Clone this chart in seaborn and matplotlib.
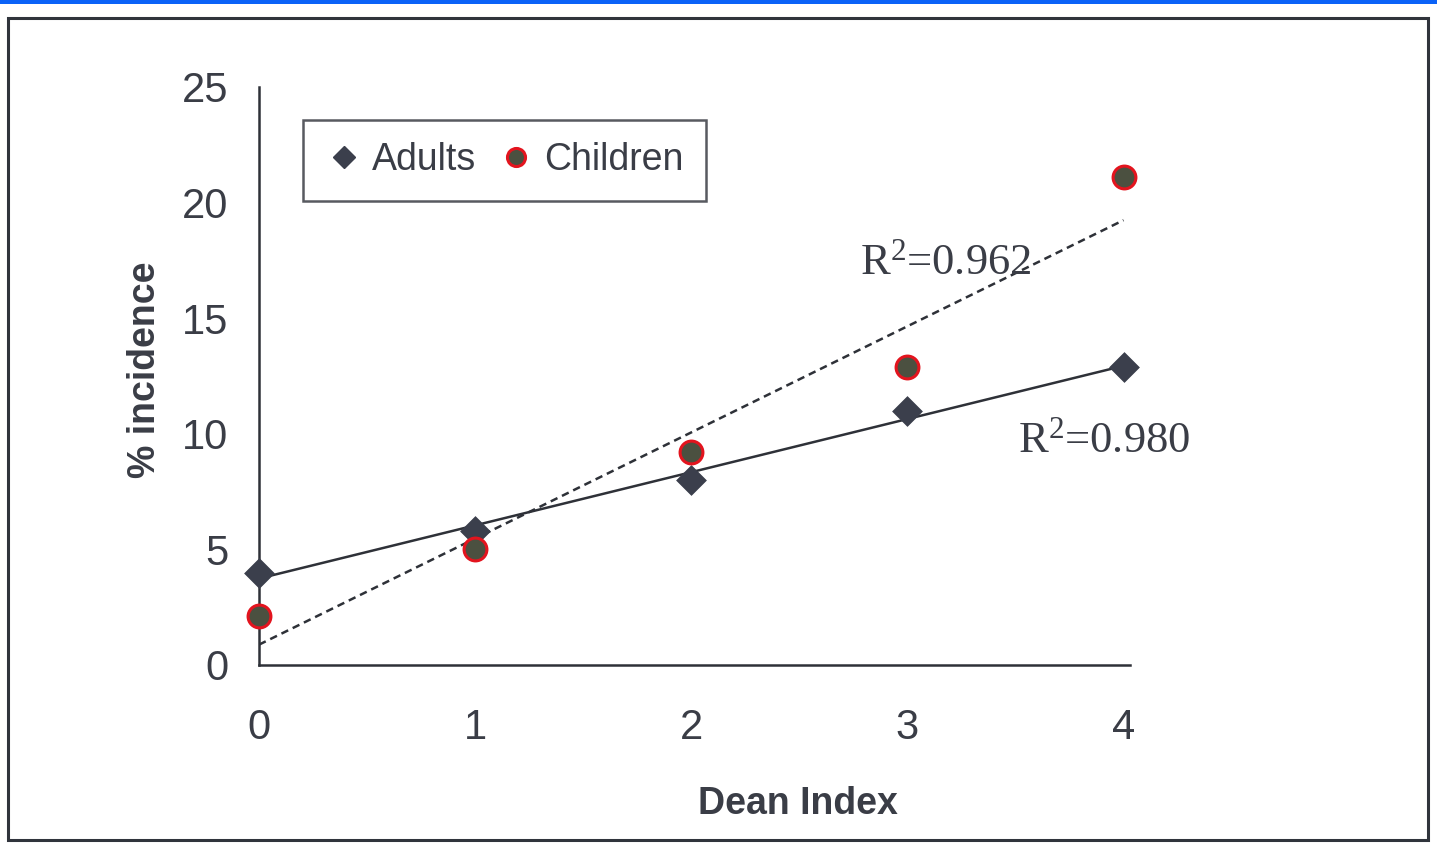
import numpy as np
import pandas as pd
import matplotlib
matplotlib.use("Agg")
import matplotlib.pyplot as plt
from matplotlib.patches import Rectangle
from matplotlib.lines import Line2D
import seaborn as sns

# Incidence (%) by Dean Index
dean_index = [0, 1, 2, 3, 4]
adults = [4.0, 5.8, 8.0, 11.0, 12.9]
children = [2.1, 5.0, 9.2, 12.9, 21.1]
series_names = ["Adults", "Children"]
r2_labels = [r"R$^{2}$=0.962", r"R$^{2}$=0.980"]
y_ticks = [0, 5, 10, 15, 20, 25]
x_ticks = [0, 1, 2, 3, 4]

df = pd.DataFrame({
    "Dean Index": dean_index * 2,
    "% incidence": adults + children,
    "group": [series_names[0]] * len(adults) + [series_names[1]] * len(children),
})

sns.set_theme(style="white")
plt.rcParams["font.family"] = ["Liberation Sans", "DejaVu Sans"]
plt.rcParams["mathtext.fontset"] = "custom"
plt.rcParams["mathtext.rm"] = "Liberation Serif"
plt.rcParams["mathtext.it"] = "Liberation Serif:italic"
plt.rcParams["mathtext.bf"] = "Liberation Serif:bold"
plt.rcParams["mathtext.default"] = "rm"

ink = "#3a3d46"
line_ink = "#2e3138"
fig = plt.figure(figsize=(14.37, 8.43), dpi=100)
fig.patch.set_facecolor("white")

# page frame and top bar
fig.patches.append(Rectangle((8 / 1437, 0.003), 1420 / 1437, (825 - 3) / 843,
                             transform=fig.transFigure, fill=False,
                             edgecolor="#30343c", linewidth=2.2))
fig.patches.append(Rectangle((0, 1 - 4 / 843), 1, 4 / 843, transform=fig.transFigure,
                             facecolor="#0a62f8", edgecolor="none"))

ax = fig.add_axes([259 / 1437, 178 / 843, 871 / 1437, 578 / 843])
ax.set_facecolor("none")

adf = df[df["group"] == "Adults"]
cdf = df[df["group"] == "Children"]

# linear trend lines
sns.regplot(data=adf, x="Dean Index", y="% incidence", scatter=False, ci=None, ax=ax,
            line_kws=dict(color=line_ink, linewidth=1.8, linestyle="-"))
sns.regplot(data=cdf, x="Dean Index", y="% incidence", scatter=False, ci=None, ax=ax,
            line_kws=dict(color=line_ink, linewidth=1.8, linestyle=(0, (3, 2))))

# data points
sns.scatterplot(data=adf, x="Dean Index", y="% incidence", marker="D", s=230,
                color="#3b3f4c", edgecolor="#3b3f4c", linewidth=0.5, ax=ax,
                zorder=4, clip_on=False)
sns.scatterplot(data=cdf, x="Dean Index", y="% incidence", marker="o", s=270,
                color="#4b5040", edgecolor="#e3141e", linewidth=2.2, ax=ax,
                zorder=4, clip_on=False)

ax.set_xlim(0, 4.03)
ax.set_ylim(0, 25)
ax.set_xticks(x_ticks)
ax.set_yticks(y_ticks)
ax.set_xticklabels([str(v) for v in x_ticks])
ax.set_yticklabels([str(v) for v in y_ticks])

for side in ["top", "right"]:
    ax.spines[side].set_visible(False)
for side in ["left", "bottom"]:
    ax.spines[side].set_color(line_ink)
    ax.spines[side].set_linewidth(1.8)

ax.tick_params(axis="both", which="major", direction="out", length=9, width=1.8,
               color=line_ink, labelcolor=ink, labelsize=30)
ax.tick_params(axis="x", pad=22)
ax.tick_params(axis="y", pad=13)

ax.set_xlabel("Dean Index", fontsize=27, fontweight="bold", color=ink)
ax.set_ylabel("% incidence", fontsize=27, fontweight="bold", color=ink)
ax.xaxis.set_label_coords(0.619, -0.21)
ax.yaxis.set_label_coords(-0.11, 0.51)

# R-squared annotations
serif = ["Liberation Serif", "DejaVu Serif"]
ax.text(2.78, 16.9, r2_labels[0], fontsize=32, color=ink, family=serif,
        ha="left", va="baseline")
ax.text(3.51, 9.2, r2_labels[1], fontsize=32, color=ink, family=serif,
        ha="left", va="baseline")

handles = [
    Line2D([], [], marker="D", linestyle="none", markersize=11,
           markerfacecolor="#3b3f4c", markeredgecolor="#3b3f4c"),
    Line2D([], [], marker="o", linestyle="none", markersize=13,
           markerfacecolor="#4b5040", markeredgecolor="#e3141e", markeredgewidth=2.2),
]
leg = fig.legend(handles, series_names, loc="center", ncol=2,
                 bbox_to_anchor=(504.5 / 1437, (843 - 160) / 843),
                 fontsize=27, frameon=True, fancybox=False, handletextpad=0.25,
                 columnspacing=0.55, handlelength=1.0, borderpad=0.6,
                 labelcolor=ink)
leg.get_frame().set_edgecolor(line_ink)
leg.get_frame().set_linewidth(1.8)

fig.savefig("out.png", dpi=100, facecolor="white")
